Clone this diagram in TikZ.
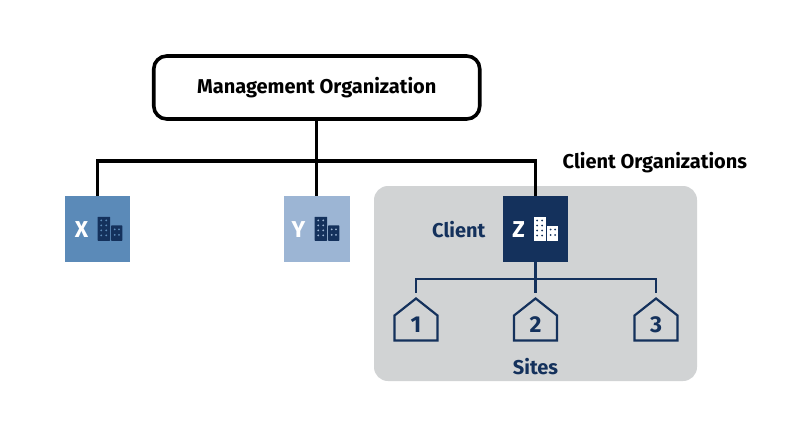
\documentclass[tikz,border=0pt]{standalone}
\usepackage{fontspec}
\setmainfont{Fira Sans}
\definecolor{navy}{HTML}{14315C}
\definecolor{blueX}{HTML}{5B8AB8}
\definecolor{blueY}{HTML}{9CB5D4}
\definecolor{panel}{HTML}{D1D3D4}
\tikzset{
  org/.style={draw=none,minimum width=65.5pt,minimum height=66pt,inner sep=0pt,outer sep=0pt},
  toplink/.style={draw=black,line width=3.4pt},
  sitelink/.style={draw=navy,line width=2.6pt},
  lab/.style={font=\fontsize{20}{22}\selectfont\bfseries,inner sep=0pt},
  biglab/.style={font=\fontsize{23}{25}\selectfont\bfseries,inner sep=0pt},
  hs/.style={draw=navy,line width=2.2pt,miter limit=10},
  pics/bldg/.style={code={
    \fill[navy,rounded corners=0.6pt] (0,0) rectangle (12.7,24);
    \fill[navy,rounded corners=0.6pt] (13.6,8.5) rectangle (24.8,24);
    \foreach \r in {3.5,8.5,13.5,18.5}{\foreach \c in {3.7,8.7}{\fill[#1] (\c,\r) circle (1);}}
    \foreach \r in {12.5,18}{\foreach \c in {17.2,21.5}{\fill[#1] (\c,\r) circle (1);}}
  }},
  pics/house/.style={code={
    \draw[hs,line join=miter] (0,0) -- (21.5,17) -- (21.5,42) -- (-21.5,42) -- (-21.5,17) -- cycle;
  }}
}
\begin{document}
\begin{tikzpicture}[x=1pt,y=-1pt]
\useasboundingbox (0,0) rectangle (792,433);
\fill[white] (0,0) rectangle (792,433);
\fill[panel,rounded corners=14pt] (374,186) rectangle (697,381);
% nodes
\node[draw=black,line width=3.6pt,rounded corners=13pt,minimum width=326pt,minimum height=63pt,inner sep=0pt,outer sep=1.8pt,lab] (mgmt) at (316.75,87.5) {\raisebox{-1pt}{Management Organization}};
\node[org,fill=blueX] (x) at (97.5,229) {};
\node[org,fill=blueY] (y) at (316.75,229) {};
\node[org,fill=navy] (z) at (535.5,229) {};
\coordinate (busL) at (97.5,161);
\coordinate (busR) at (535.5,161);
\coordinate (subL) at (416,279);
\coordinate (subR) at (656,279);
\node[inner sep=0pt,minimum size=0pt] (h1) at (416,293) {};
\node[inner sep=0pt,minimum size=0pt] (h2) at (535.5,293) {};
\node[inner sep=0pt,minimum size=0pt] (h3) at (656,293) {};
% connectors
\draw[toplink] (mgmt.south) -- (y.north);
\draw[toplink,line join=miter] (x.north) -- (busL) -- (busR) -- (z.north);
\draw[sitelink] (z.south) -- (h2);
\draw[sitelink,line join=miter] (h1) -- (subL) -- (subR) -- (h3);
% org labels and icons
\node[biglab,white] (xl) at (81.5,230) {X};
\pic at (97.5,216.8) {bldg=blueX};
\node[biglab,white] (yl) at (298.5,230) {Y};
\pic at (314.5,216.8) {bldg=blueY};
\node[biglab,white] (zl) at (518.5,230) {Z};
\fill[white] (533.5,217) rectangle (545.5,240.5);
\fill[white] (547,225.5) rectangle (557.8,240.5);
\foreach \r in {220.5,225.5,230.5,235.5}{\foreach \c in {537.2,542.2}{\fill[navy] (\c,\r) circle (1);}}
\foreach \r in {229.5,235}{\foreach \c in {550.7,555}{\fill[navy] (\c,\r) circle (1);}}
% houses
\pic at (416,298.5) {house};
\pic at (535.5,298.5) {house};
\pic at (656,298.5) {house};
\node[biglab,navy] (n1) at (416,324.5) {1};
\node[biglab,navy] (n2) at (535.5,324.5) {2};
\node[biglab,navy] (n3) at (656,324.5) {3};
% text labels
\node[lab,anchor=west] (co) at (562.5,162.5) {Client Organizations};
\node[lab,navy,anchor=west] (cl) at (432,229.5) {Client};
\node[lab,navy] (st) at (535.5,367) {Sites};
\end{tikzpicture}
\end{document}
